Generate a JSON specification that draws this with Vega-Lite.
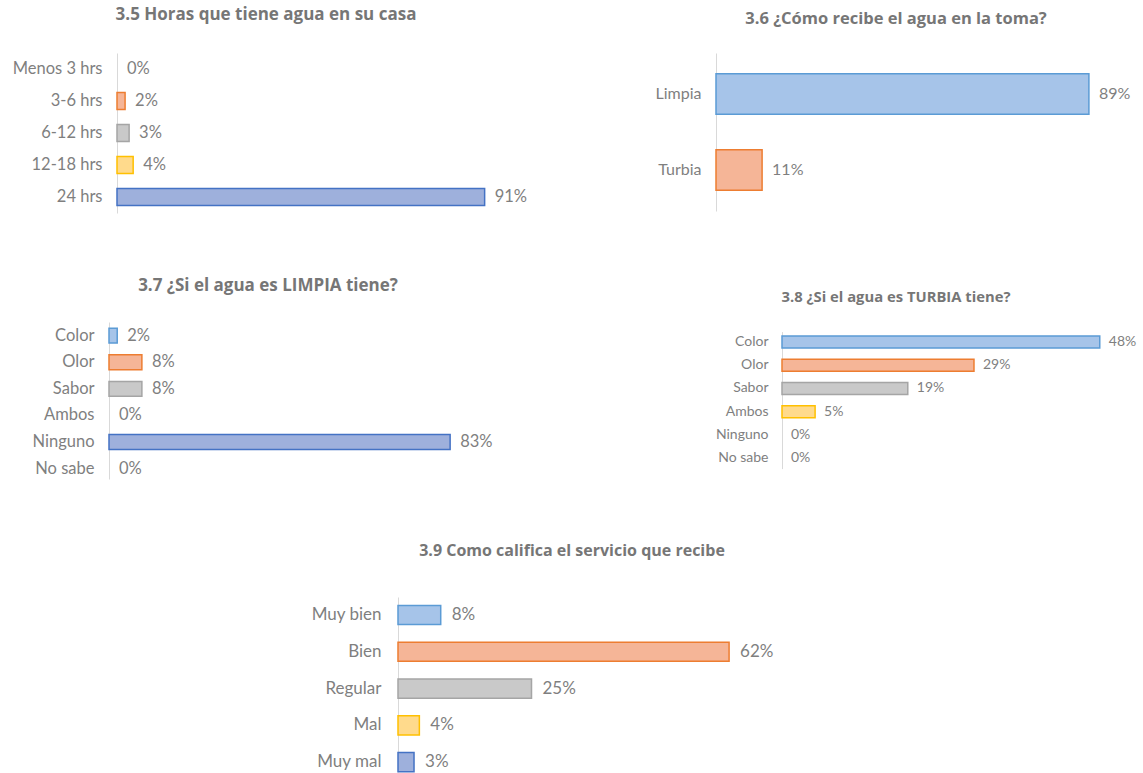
{
  "$schema": "https://vega.github.io/schema/vega-lite/v6.json",
  "padding": {"left": 10, "top": 6, "right": 0, "bottom": 0},
  "background": "white",
  "spacing": 64,
  "config": {
    "view": {"stroke": null},
    "axis": {"ticks": false, "grid": false, "domainColor": "#d9d9d9", "domainWidth": 1, "labelColor": "#7f7f7f", "labelFont": "Lato", "labelPadding": 15, "title": null},
    "title": {"font": "Open Sans", "fontWeight": "bold", "color": "#767676", "anchor": "middle", "frame": "group"},
    "text": {"font": "Lato", "color": "#7f7f7f"}
  },
  "vconcat": [
    {
      "hconcat": [
        {
          "title": {"text": "3.5 Horas  que tiene agua en su casa", "fontSize": 17, "offset": 29, "dx": -58},
          "width": 430, "height": 160,
          "data": {"values": [
            {"opcion": "Menos 3 hrs", "valor": 0},
            {"opcion": "3-6 hrs", "valor": 0.02},
            {"opcion": "6-12 hrs", "valor": 0.03},
            {"opcion": "12-18 hrs", "valor": 0.04},
            {"opcion": "24 hrs", "valor": 0.91}
          ]},
          "encoding": {
            "y": {"field": "opcion", "type": "nominal", "sort": null, "scale": {"domain": ["Menos 3 hrs", "3-6 hrs", "6-12 hrs", "12-18 hrs", "24 hrs"], "paddingInner": 0.47, "paddingOuter": 0.235, "round": false}, "axis": {"labelFontSize": 16.5, "offset": -8, "minExtent": 107, "maxExtent": 107}},
            "x": {"field": "valor", "type": "quantitative", "scale": {"domain": [0, 1], "range": [8, 412]}, "axis": null}
          },
          "layer": [
            {"transform": [{"filter": "datum.valor > 0"}], "mark": {"type": "bar", "strokeWidth": 1.5},
             "encoding": {
               "color": {"field": "opcion", "type": "nominal", "legend": null, "scale": {"domain": ["Menos 3 hrs","3-6 hrs","6-12 hrs","12-18 hrs","24 hrs","Limpia","Turbia","Color","Olor","Sabor","Ambos","Ninguno","No sabe","Muy bien","Bien","Regular","Mal","Muy mal"], "range": ["#a6c4e9","#f5b597","#c9c9c9","#ffda8c","#9eb0dc","#a6c4e9","#f5b597","#a6c4e9","#f5b597","#c9c9c9","#ffda8c","#9eb0dc","#b5d5a0","#a6c4e9","#f5b597","#c9c9c9","#ffda8c","#9eb0dc"]}},
               "stroke": {"field": "opcion", "type": "nominal", "legend": null, "scale": {"domain": ["Menos 3 hrs","3-6 hrs","6-12 hrs","12-18 hrs","24 hrs","Limpia","Turbia","Color","Olor","Sabor","Ambos","Ninguno","No sabe","Muy bien","Bien","Regular","Mal","Muy mal"], "range": ["#5b9bd5","#ed7d31","#a5a5a5","#ffc000","#4472c4","#5b9bd5","#ed7d31","#5b9bd5","#ed7d31","#a5a5a5","#ffc000","#4472c4","#70ad47","#5b9bd5","#ed7d31","#a5a5a5","#ffc000","#4472c4"]}}
             }},
            {"mark": {"type": "text", "align": "left", "baseline": "middle", "dx": 10, "fontSize": 16.5},
             "encoding": {"text": {"field": "valor", "type": "quantitative", "format": ".0%"}}}
          ]
        },
        {
          "title": {"text": "3.6 ¿Cómo recibe el agua en la toma?", "fontSize": 16.5, "offset": 26, "dx": -33.5},
          "width": 427, "height": 158,
          "data": {"values": [
            {"opcion": "Limpia", "valor": 0.89},
            {"opcion": "Turbia", "valor": 0.11}
          ]},
          "encoding": {
            "y": {"field": "opcion", "type": "nominal", "sort": null, "scale": {"domain": ["Limpia", "Turbia"], "paddingInner": 0.47, "paddingOuter": 0.274, "round": false}, "axis": {"labelFontSize": 16, "minExtent": 62, "maxExtent": 62}},
            "x": {"field": "valor", "type": "quantitative", "scale": {"domain": [0, 1], "range": [0, 419]}, "axis": null}
          },
          "layer": [
            {"transform": [{"filter": "datum.valor > 0"}], "mark": {"type": "bar", "strokeWidth": 1.5},
             "encoding": {
               "color": {"field": "opcion", "type": "nominal", "legend": null, "scale": {"domain": ["Menos 3 hrs","3-6 hrs","6-12 hrs","12-18 hrs","24 hrs","Limpia","Turbia","Color","Olor","Sabor","Ambos","Ninguno","No sabe","Muy bien","Bien","Regular","Mal","Muy mal"], "range": ["#a6c4e9","#f5b597","#c9c9c9","#ffda8c","#9eb0dc","#a6c4e9","#f5b597","#a6c4e9","#f5b597","#c9c9c9","#ffda8c","#9eb0dc","#b5d5a0","#a6c4e9","#f5b597","#c9c9c9","#ffda8c","#9eb0dc"]}},
               "stroke": {"field": "opcion", "type": "nominal", "legend": null, "scale": {"domain": ["Menos 3 hrs","3-6 hrs","6-12 hrs","12-18 hrs","24 hrs","Limpia","Turbia","Color","Olor","Sabor","Ambos","Ninguno","No sabe","Muy bien","Bien","Regular","Mal","Muy mal"], "range": ["#5b9bd5","#ed7d31","#a5a5a5","#ffc000","#4472c4","#5b9bd5","#ed7d31","#5b9bd5","#ed7d31","#a5a5a5","#ffc000","#4472c4","#70ad47","#5b9bd5","#ed7d31","#a5a5a5","#ffc000","#4472c4"]}}
             }},
            {"mark": {"type": "text", "align": "left", "baseline": "middle", "dx": 10, "fontSize": 16},
             "encoding": {"text": {"field": "valor", "type": "quantitative", "format": ".0%"}}}
          ]
        }
      ],
      "spacing": 115
    },
    {
      "hconcat": [
        {
          "title": {"text": "3.7 ¿Si el agua es LIMPIA tiene?", "fontSize": 17, "offset": 27, "dx": -56},
          "width": 430, "height": 157,
          "data": {"values": [
            {"opcion": "Color", "valor": 0.02},
            {"opcion": "Olor", "valor": 0.08},
            {"opcion": "Sabor", "valor": 0.08},
            {"opcion": "Ambos", "valor": 0},
            {"opcion": "Ninguno", "valor": 0.83},
            {"opcion": "No sabe", "valor": 0}
          ]},
          "encoding": {
            "y": {"field": "opcion", "type": "nominal", "sort": null, "scale": {"domain": ["Color", "Olor", "Sabor", "Ambos", "Ninguno", "No sabe"], "paddingInner": 0.44, "paddingOuter": 0.171, "align": 0.68, "round": false}, "axis": {"labelFontSize": 16.5}},
            "x": {"field": "valor", "type": "quantitative", "scale": {"domain": [0, 1], "range": [0, 411]}, "axis": null}
          },
          "layer": [
            {"transform": [{"filter": "datum.valor > 0"}], "mark": {"type": "bar", "strokeWidth": 1.5},
             "encoding": {
               "color": {"field": "opcion", "type": "nominal", "legend": null, "scale": {"domain": ["Menos 3 hrs","3-6 hrs","6-12 hrs","12-18 hrs","24 hrs","Limpia","Turbia","Color","Olor","Sabor","Ambos","Ninguno","No sabe","Muy bien","Bien","Regular","Mal","Muy mal"], "range": ["#a6c4e9","#f5b597","#c9c9c9","#ffda8c","#9eb0dc","#a6c4e9","#f5b597","#a6c4e9","#f5b597","#c9c9c9","#ffda8c","#9eb0dc","#b5d5a0","#a6c4e9","#f5b597","#c9c9c9","#ffda8c","#9eb0dc"]}},
               "stroke": {"field": "opcion", "type": "nominal", "legend": null, "scale": {"domain": ["Menos 3 hrs","3-6 hrs","6-12 hrs","12-18 hrs","24 hrs","Limpia","Turbia","Color","Olor","Sabor","Ambos","Ninguno","No sabe","Muy bien","Bien","Regular","Mal","Muy mal"], "range": ["#5b9bd5","#ed7d31","#a5a5a5","#ffc000","#4472c4","#5b9bd5","#ed7d31","#5b9bd5","#ed7d31","#a5a5a5","#ffc000","#4472c4","#70ad47","#5b9bd5","#ed7d31","#a5a5a5","#ffc000","#4472c4"]}}
             }},
            {"mark": {"type": "text", "align": "left", "baseline": "middle", "dx": 10, "fontSize": 16.5},
             "encoding": {"text": {"field": "valor", "type": "quantitative", "format": ".0%"}}}
          ]
        },
        {
          "title": {"text": "3.8 ¿Si el agua es TURBIA tiene?", "fontSize": 14.8, "offset": 17, "dx": -51.5},
          "width": 331, "height": 150,
          "data": {"values": [
            {"opcion": "Color", "valor": 0.48},
            {"opcion": "Olor", "valor": 0.29},
            {"opcion": "Sabor", "valor": 0.19},
            {"opcion": "Ambos", "valor": 0.05},
            {"opcion": "Ninguno", "valor": 0},
            {"opcion": "No sabe", "valor": 0}
          ]},
          "encoding": {
            "y": {"field": "opcion", "type": "nominal", "sort": null, "scale": {"domain": ["Color", "Olor", "Sabor", "Ambos", "Ninguno", "No sabe"], "range": [9.6, 146.6], "paddingInner": 0.48, "paddingOuter": 0.19, "round": false}, "axis": {"labelFontSize": 14, "labelPadding": 14, "minExtent": 70, "maxExtent": 70}},
            "x": {"field": "valor", "type": "quantitative", "scale": {"domain": [0, 0.5], "range": [0, 331]}, "axis": null}
          },
          "layer": [
            {"transform": [{"filter": "datum.valor > 0"}], "mark": {"type": "bar", "strokeWidth": 1.5},
             "encoding": {
               "color": {"field": "opcion", "type": "nominal", "legend": null, "scale": {"domain": ["Menos 3 hrs","3-6 hrs","6-12 hrs","12-18 hrs","24 hrs","Limpia","Turbia","Color","Olor","Sabor","Ambos","Ninguno","No sabe","Muy bien","Bien","Regular","Mal","Muy mal"], "range": ["#a6c4e9","#f5b597","#c9c9c9","#ffda8c","#9eb0dc","#a6c4e9","#f5b597","#a6c4e9","#f5b597","#c9c9c9","#ffda8c","#9eb0dc","#b5d5a0","#a6c4e9","#f5b597","#c9c9c9","#ffda8c","#9eb0dc"]}},
               "stroke": {"field": "opcion", "type": "nominal", "legend": null, "scale": {"domain": ["Menos 3 hrs","3-6 hrs","6-12 hrs","12-18 hrs","24 hrs","Limpia","Turbia","Color","Olor","Sabor","Ambos","Ninguno","No sabe","Muy bien","Bien","Regular","Mal","Muy mal"], "range": ["#5b9bd5","#ed7d31","#a5a5a5","#ffc000","#4472c4","#5b9bd5","#ed7d31","#5b9bd5","#ed7d31","#a5a5a5","#ffc000","#4472c4","#70ad47","#5b9bd5","#ed7d31","#a5a5a5","#ffc000","#4472c4"]}}
             }},
            {"mark": {"type": "text", "align": "left", "baseline": "middle", "dx": 9, "fontSize": 14},
             "encoding": {"text": {"field": "valor", "type": "quantitative", "format": ".0%"}}}
          ]
        }
      ],
      "spacing": 173
    },
    {
      "title": {"text": "3.9 Como califica  el servicio  que recibe", "fontSize": 16, "offset": 38, "dx": 51.5},
      "width": 823, "height": 175,
      "data": {"values": [
        {"opcion": "Muy bien", "valor": 0.08},
        {"opcion": "Bien", "valor": 0.62},
        {"opcion": "Regular", "valor": 0.25},
        {"opcion": "Mal", "valor": 0.04},
        {"opcion": "Muy mal", "valor": 0.03}
      ]},
      "encoding": {
        "y": {"field": "opcion", "type": "nominal", "sort": null, "scale": {"domain": ["Muy bien", "Bien", "Regular", "Mal", "Muy mal"], "paddingInner": 0.48, "paddingOuter": 0.1177, "align": 0.97, "round": false}, "axis": {"labelFontSize": 17, "labelPadding": 17, "offset": -289}},
        "x": {"field": "valor", "type": "quantitative", "scale": {"domain": [0, 1], "range": [289, 823]}, "axis": null}
      },
      "layer": [
        {"transform": [{"filter": "datum.valor > 0"}], "mark": {"type": "bar", "strokeWidth": 1.5},
         "encoding": {
           "color": {"field": "opcion", "type": "nominal", "legend": null, "scale": {"domain": ["Menos 3 hrs","3-6 hrs","6-12 hrs","12-18 hrs","24 hrs","Limpia","Turbia","Color","Olor","Sabor","Ambos","Ninguno","No sabe","Muy bien","Bien","Regular","Mal","Muy mal"], "range": ["#a6c4e9","#f5b597","#c9c9c9","#ffda8c","#9eb0dc","#a6c4e9","#f5b597","#a6c4e9","#f5b597","#c9c9c9","#ffda8c","#9eb0dc","#b5d5a0","#a6c4e9","#f5b597","#c9c9c9","#ffda8c","#9eb0dc"]}},
           "stroke": {"field": "opcion", "type": "nominal", "legend": null, "scale": {"domain": ["Menos 3 hrs","3-6 hrs","6-12 hrs","12-18 hrs","24 hrs","Limpia","Turbia","Color","Olor","Sabor","Ambos","Ninguno","No sabe","Muy bien","Bien","Regular","Mal","Muy mal"], "range": ["#5b9bd5","#ed7d31","#a5a5a5","#ffc000","#4472c4","#5b9bd5","#ed7d31","#5b9bd5","#ed7d31","#a5a5a5","#ffc000","#4472c4","#70ad47","#5b9bd5","#ed7d31","#a5a5a5","#ffc000","#4472c4"]}}
         }},
        {"mark": {"type": "text", "align": "left", "baseline": "middle", "dx": 11, "fontSize": 17},
         "encoding": {"text": {"field": "valor", "type": "quantitative", "format": ".0%"}}}
      ]
    }
  ]
}
